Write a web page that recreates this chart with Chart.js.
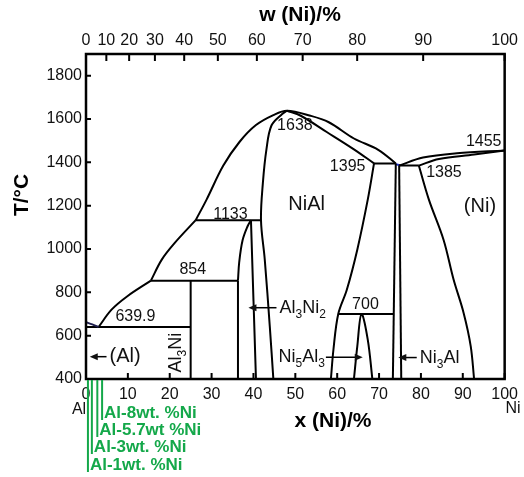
<!DOCTYPE html>
<html>
<head>
<meta charset="utf-8">
<script src="https://cdn.jsdelivr.net/npm/chart.js@4.4.1/dist/chart.umd.min.js"></script>
<style>
  html, body { margin: 0; padding: 0; background: #fff; }
</style>
</head>
<body>
<canvas id="phaseChart" width="524" height="477"></canvas>
<script>
// Al-Ni phase diagram, x (Ni) in at.% and T in degC

// invariant temperatures
const tEutAl = 639.9;
const tPeri854 = 854;
const tPeri1133 = 1133;
const tNiAlMax = 1638;
const tPeri1395 = 1395;
const tEut1385 = 1385;
const tNiMelt = 1455;
const tPeri700 = 700;

// axis ticks
const atTicks = [0, 10, 20, 30, 40, 50, 60, 70, 80, 90, 100];
const wtTicks = [0, 10, 20, 30, 40, 50, 60, 70, 80, 90, 100];
const tempTicks = [400, 600, 800, 1000, 1200, 1400, 1600, 1800];

// boundaries, [x (Ni), T]
const liquidusAl = [[0, 662], [1.5, 652], [3, tEutAl]];
const liquidusLow = [[3, tEutAl], [6.1, 720], [9.8, 781], [15.5, tPeri854]];
const liquidusMid = [[15.5, tPeri854], [18.1, 951], [21.2, 1028], [26.2, tPeri1133]];
const liquidusTop = [[26.2, tPeri1133], [28.8, 1228], [32.8, 1385], [36.7, 1495], [40.6, 1572],
  [44.75, 1618], [48, tNiAlMax], [53.6, 1615], [58, 1585], [64, 1510], [69.8, 1458], [74, tPeri1395]];
const niAlLeft = [[48, tNiAlMax], [46.8, 1622], [44.3, 1570], [43.1, 1460], [42.25, 1305],
  [41.8, tPeri1133], [42.7, 951], [43.9, 643], [44.75, 400]];
const niAlSolidusRight = [[48, tNiAlMax], [51.3, 1615], [57.5, 1540], [64, 1460], [68.8, tPeri1395]];
const niAlRightLow = [[68.8, tPeri1395], [67.3, 1228], [64.8, 997], [62.3, 812], [60.25, tPeri700],
  [59.1, 535], [58.5, 400]];
const niAlRightEdge = [[74, tPeri1395], [73.3, 400]];
const liquidusNi = [[74.8, tEut1385], [80.5, 1422], [88.6, 1442], [100, tNiMelt]];
const solidusNi = [[79.5, tEut1385], [84.3, 1415], [92.7, 1436], [100, tNiMelt]];
const ni3AlLeft = [[74.8, tEut1385], [75.3, 400]];
const ni3AlRight = [[79.5, tEut1385], [81.9, 1228], [85.4, 1043], [87.8, 859], [90.2, 705],
  [91.9, 551], [92.7, 400]];
const ni5Al3Dome = [[64.0, 400], [64.8, 551], [65.8, tPeri700], [67.3, 582], [68.4, 400]];
const al3Ni2LeftLow = [[36.3, 400], [36.3, tPeri854]];
const al3Ni2LeftHigh = [[36.3, tPeri854], [36.6, 940], [37.4, 1040], [38.6, 1105], [39.4, tPeri1133]];
const al3Ni2Right = [[39.4, tPeri1133], [40.6, 400]];
const al3NiLine = [[25, 400], [25, tPeri854]];
const line640 = [[0, tEutAl], [25, tEutAl]];
const line854 = [[15.5, tPeri854], [36.3, tPeri854]];
const line1133 = [[26.2, tPeri1133], [41.8, tPeri1133]];
const line1395 = [[68.8, tPeri1395], [74, tPeri1395]];
const line1385 = [[74.8, tEut1385], [79.5, tEut1385]];
const line700 = [[60.25, tPeri700], [73.4, tPeri700]];
const joinBit = [[74, 1391], [75, 1387]];

// alloys marked under the axis (wt.% Ni)
const alloysWt = [1, 3, 5.7, 8];
const alloyNames = ['Al-1wt. %Ni', 'Al-3wt. %Ni', 'Al-5.7wt %Ni', 'Al-8wt. %Ni'];

// labels in data coordinates
const valueLabels = [
  { value: tEutAl, x: 11.8, t: 689 },
  { value: tPeri854, x: 25.5, t: 905 },
  { value: tPeri1133, x: 34.5, t: 1159 },
  { value: tNiAlMax, x: 49.9, t: 1569 },
  { value: tPeri1395, x: 62.5, t: 1381 },
  { value: tNiMelt, x: 95, t: 1497 },
  { value: tEut1385, x: 85.5, t: 1354 },
  { value: tPeri700, x: 66.75, t: 743 }
];
const phaseLabels = [
  { text: 'NiAl', x: 52.7, t: 1205 },
  { text: '(Ni)', x: 94.1, t: 1195 }
];
const arrowLabels = [
  { text: '(Al)', tail: 4.9, tip: 0.9, t: 503, size: 20 },
  { text: 'Al_3Ni_2', tail: 45.5, tip: 38.8, t: 729, size: 18 },
  { text: 'Ni_5Al_3', tail: 57.3, tip: 66.1, t: 500, size: 18 },
  { text: 'Ni_3Al', tail: 79.0, tip: 74.6, t: 499, size: 18 }
];

const wtToAt = w => {
  const ni = w / 58.69, al = (100 - w) / 26.98;
  return 100 * ni / (ni + al);
};

const FONT = '"Liberation Sans", Arial, sans-serif';
Chart.defaults.font.family = FONT;

function line(pts, tension = 0, color = '#000') {
  return {
    data: pts.map(([x, y]) => ({ x, y })),
    showLine: true,
    borderColor: color,
    borderWidth: 2,
    pointRadius: 0,
    fill: false,
    tension
  };
}

// text with _n subscripts
function richText(ctx, text, x, y, size, align, bold) {
  const parts = text.split(/(_\d)/).filter(Boolean);
  const w = bold ? 'bold ' : '';
  const segs = parts.map(p => {
    const sub = p[0] === '_';
    const font = `${w}${sub ? Math.round(size * 0.68) : size}px ${FONT}`;
    ctx.font = font;
    const s = sub ? p.slice(1) : p;
    return { s, sub, font, width: ctx.measureText(s).width };
  });
  const total = segs.reduce((a, g) => a + g.width, 0);
  let cx = align === 'center' ? x - total / 2 : align === 'right' ? x - total : x;
  ctx.textAlign = 'left';
  ctx.textBaseline = 'middle';
  segs.forEach(g => {
    ctx.font = g.font;
    ctx.fillText(g.s, cx, g.sub ? y + size * 0.38 : y);
    cx += g.width;
  });
}

function arrow(ctx, x1, x2, y) {
  const dir = Math.sign(x2 - x1);
  ctx.beginPath();
  ctx.moveTo(x1, y);
  ctx.lineTo(x2 - dir * 4, y);
  ctx.stroke();
  ctx.beginPath();
  ctx.moveTo(x2, y);
  ctx.lineTo(x2 - dir * 8, y - 3.5);
  ctx.lineTo(x2 - dir * 8, y + 3.5);
  ctx.closePath();
  ctx.fill();
}

const decor = {
  id: 'decor',
  afterDraw(chart) {
    const { ctx, chartArea: a, scales } = chart;
    const sx = scales.x, sy = scales.y, st = scales.xTop;
    ctx.save();
    ctx.strokeStyle = '#000';
    ctx.fillStyle = '#000';

    // frame and inward ticks
    ctx.lineWidth = 2.5;
    ctx.strokeRect(a.left, a.top, a.right - a.left, a.bottom - a.top);
    ctx.lineWidth = 2;
    ctx.beginPath();
    sx.ticks.forEach(t => {
      const px = sx.getPixelForValue(t.value);
      ctx.moveTo(px, a.bottom); ctx.lineTo(px, a.bottom - 6);
    });
    st.ticks.forEach(t => {
      const px = st.getPixelForValue(t.value);
      ctx.moveTo(px, a.top); ctx.lineTo(px, a.top + 7);
    });
    sy.ticks.forEach(t => {
      const py = sy.getPixelForValue(t.value);
      ctx.moveTo(a.left, py); ctx.lineTo(a.left + 5, py);
    });
    ctx.stroke();

    // temperatures
    ctx.fillStyle = '#111';
    valueLabels.forEach(l => {
      richText(ctx, String(l.value), sx.getPixelForValue(l.x), sy.getPixelForValue(l.t), 16, 'center');
    });
    phaseLabels.forEach(l => {
      richText(ctx, l.text, sx.getPixelForValue(l.x), sy.getPixelForValue(l.t), 20, 'center');
    });

    // arrowed labels
    ctx.lineWidth = 1.5;
    arrowLabels.forEach(l => {
      const tail = sx.getPixelForValue(l.tail), tip = sx.getPixelForValue(l.tip);
      const py = sy.getPixelForValue(l.t);
      arrow(ctx, tail, tip, py);
      if (tip < tail) richText(ctx, l.text, tail + 3, py, l.size, 'left');
      else richText(ctx, l.text, tail - 1, py, l.size, 'right');
    });

    // Al3Ni, written upright
    ctx.save();
    ctx.translate(sx.getPixelForValue(21.4), sy.getPixelForValue(522));
    ctx.rotate(-Math.PI / 2);
    richText(ctx, 'Al_3Ni', 0, 0, 18, 'center');
    ctx.restore();

    // axis titles
    ctx.fillStyle = '#000';
    richText(ctx, 'w (Ni)/%', 300, 15, 21, 'center', true);
    richText(ctx, 'x (Ni)/%', 333, 421, 21, 'center', true);
    ctx.save();
    ctx.translate(22, 195);
    ctx.rotate(-Math.PI / 2);
    richText(ctx, 'T/°C', 0, 0, 21, 'center', true);
    ctx.restore();
    ctx.fillStyle = '#111';
    richText(ctx, 'Al', 79, 410, 16, 'center');
    richText(ctx, 'Ni', 513, 409, 16, 'center');

    // alloy markers
    const green = '#14a84a';
    const rowY = [465, 447, 430, 413];
    ctx.strokeStyle = green;
    ctx.fillStyle = green;
    ctx.lineWidth = 2;
    alloysWt.forEach((w, i) => {
      const px = sx.getPixelForValue(wtToAt(w));
      ctx.beginPath();
      ctx.moveTo(px, a.bottom + 1);
      ctx.lineTo(px, rowY[i] + 7);
      ctx.stroke();
      richText(ctx, alloyNames[i], px + 2, rowY[i], 17, 'left', true);
    });
    ctx.restore();
  }
};

const noGrid = { display: false, drawTicks: false };
const tickFont = { size: 16 };

new Chart(document.getElementById('phaseChart'), {
  type: 'scatter',
  data: {
    datasets: [
      line(liquidusAl, 0.3, '#202050'),
      line(liquidusLow, 0.35),
      line(liquidusMid, 0.35),
      line(liquidusTop, 0.35),
      line(niAlLeft, 0.35),
      line(niAlSolidusRight, 0.35),
      line(niAlRightLow, 0.35),
      line(niAlRightEdge),
      line(liquidusNi, 0.35),
      line(solidusNi, 0.35),
      line(ni3AlLeft),
      line(ni3AlRight, 0.35),
      line(ni5Al3Dome, 0.35),
      line(al3Ni2LeftLow),
      line(al3Ni2LeftHigh, 0.35),
      line(al3Ni2Right),
      line(al3NiLine),
      line(line640),
      line(line854),
      line(line1133),
      line(line1395),
      line(line1385),
      line(line700),
      line(joinBit, 0, '#2030c0')
    ]
  },
  options: {
    responsive: false,
    animation: false,
    devicePixelRatio: 1,
    layout: { padding: { right: 14 } },
    plugins: { legend: { display: false }, tooltip: { enabled: false } },
    scales: {
      x: {
        type: 'linear', position: 'bottom', min: 0, max: 100,
        grid: noGrid, border: { display: false },
        ticks: { padding: 6, color: '#111', font: tickFont, maxRotation: 0, autoSkip: false,
          callback: v => String(v) },
        afterBuildTicks: s => { s.ticks = atTicks.map(v => ({ value: v })); },
        afterFit: s => { s.height = 98; }
      },
      xTop: {
        type: 'linear', position: 'top', min: 0, max: 100,
        grid: noGrid, border: { display: false },
        ticks: { padding: 4, color: '#111', font: tickFont, maxRotation: 0, autoSkip: false,
          callback: (v, i) => String(wtTicks[i]) },
        afterBuildTicks: s => { s.ticks = wtTicks.map(w => ({ value: wtToAt(w) })); },
        afterFit: s => { s.height = 54; }
      },
      y: {
        type: 'linear', min: 400, max: 1900,
        grid: noGrid, border: { display: false },
        ticks: { padding: 4, color: '#111', font: tickFont, callback: v => String(v) },
        afterBuildTicks: s => { s.ticks = tempTicks.map(v => ({ value: v })); },
        afterFit: s => { s.width = 86; }
      }
    }
  },
  plugins: [decor]
});
</script>
</body>
</html>
